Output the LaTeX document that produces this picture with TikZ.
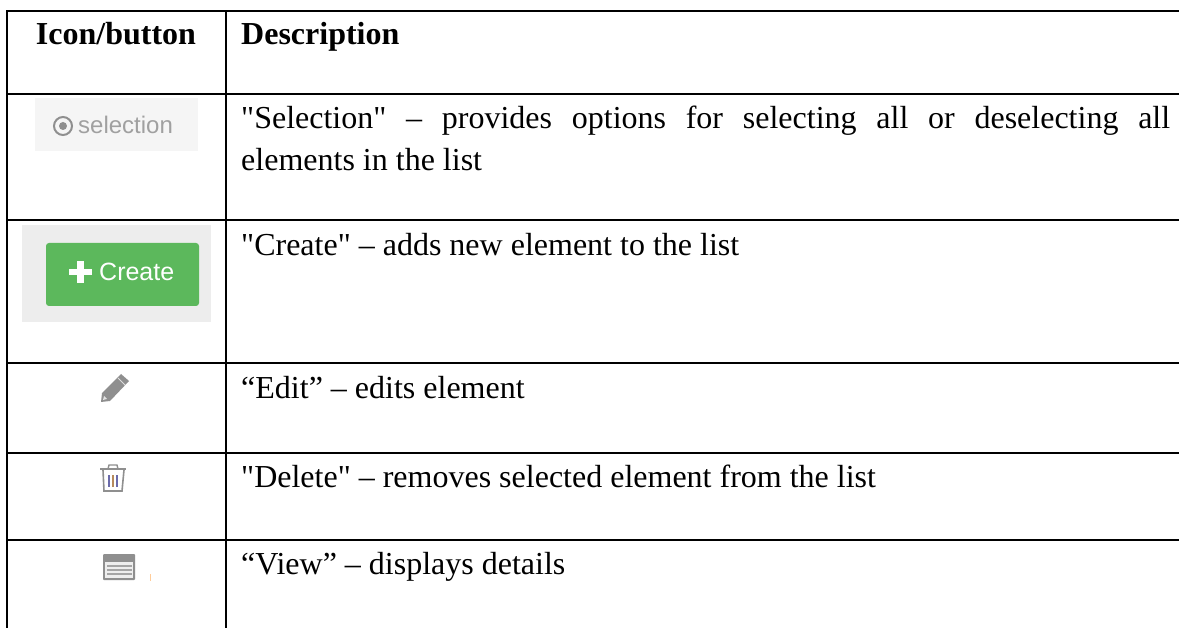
\documentclass[tikz,border=0pt]{standalone}
\usepackage{fontspec}
\setmainfont{Liberation Serif}
\newfontfamily\uisans{Liberation Sans}
\definecolor{iconGray}{HTML}{8F8F8F}
\definecolor{btnGreen}{HTML}{5CB85C}
\newcommand{\sq}{\XeTeXglyph\XeTeXcharglyph"22\relax}
\begin{document}
\begin{tikzpicture}[x=1pt,y=-1pt,
  rule/.style={line width=2.2pt,black},
  cell/.style={anchor=north west,inner sep=0pt,text width=929pt,align=justify,font=\fontsize{32}{42}\selectfont},
  head/.style={anchor=base,inner sep=0pt,font=\fontsize{32}{38}\selectfont\bfseries}]
\useasboundingbox (0,0) rectangle (1179,628);
\fill[white] (0,0) rectangle (1179,628);
% grid
\coordinate (tl) at (7,11); \coordinate (bl) at (7,628);
\coordinate (tm) at (226,11); \coordinate (bm) at (226,628);
\coordinate (tr) at (1179,11);
\draw[rule] (bl) -- (tl) -- (tr);
\draw[rule] (tm) -- (bm);
\foreach \y in {94,220,363,453,540} \draw[rule] (7,\y) -- (1179,\y);
% text
\node[head] (h1) at (116,45) {Icon/button};
\node[head,anchor=base west] (h2) at (241,45) {Description};
\node[cell] (t1) at (241,106) {\sq Selection\sq{} – provides options for selecting all or deselecting all\linebreak elements in the list};
\node[cell] (t2) at (241,233) {\sq Create\sq{} – adds new element to the list};
\node[cell] (t3) at (241,376) {“Edit” – edits element};
\node[cell] (t4) at (241,465) {\sq Delete\sq{} – removes selected element from the list};
\node[cell] (t5) at (241,552) {“View” – displays details};
% selection icon
\fill[black!4] (35,98) rectangle (198,151);
\draw[iconGray,line width=2pt] (63,126) circle (9);
\fill[iconGray] (63,126) circle (4);
\node[anchor=base west,inner sep=0pt,text=iconGray!85,font=\uisans\fontsize{24}{26}\selectfont] (sel) at (78,134) {selection};
% create button
\fill[black!7] (22,225) rectangle (211,322);
\fill[btnGreen,rounded corners=3pt] (46,243) rectangle (199,306);
\fill[white] (69,269) rectangle (92,275);
\fill[white] (77,261) rectangle (84,283);
\node[anchor=base west,inner sep=0pt,text=white,font=\uisans\fontsize{25}{26}\selectfont] (cr) at (99,281) {Create};
% pencil
\fill[iconGray] (101,402) -- (102,393) -- (121,374) -- (129,381) -- (110,401) -- cycle;
\fill[white!75!iconGray] (103,400) -- (104,396) -- (107,399) -- cycle;
\draw[white!70!iconGray,line width=1pt] (118,378) -- (125,385);
% trash
\draw[iconGray,line width=1.6pt] (103,470) -- (104,491) -- (122,491) -- (124,470);
\draw[iconGray,line width=1.6pt] (100,469) -- (126,469);
\draw[iconGray,line width=1.4pt] (108,469) -- (109,465) -- (117,465) -- (118,469);
\foreach \x/\c in {109/blue!25!iconGray,113/orange!35!iconGray,117/blue!25!iconGray} \draw[\c,line width=1.6pt] (\x,475) -- (\x,487);
% view
\fill[iconGray,rounded corners=1pt] (103,554) rectangle (135,580);
\fill[white!85!iconGray] (105,562) rectangle (133,578);
\foreach \y in {566,570,574} \draw[iconGray!80,line width=1.2pt] (107,\y) -- (132,\y);
\draw[orange!40,line width=1pt] (150,574) -- (150,581);
\end{tikzpicture}
\end{document}
